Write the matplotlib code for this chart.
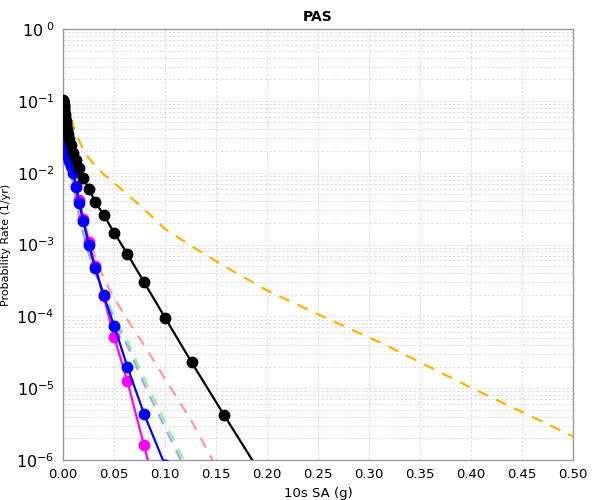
import numpy as np
import matplotlib
matplotlib.use("Agg")
import matplotlib.pyplot as plt
from matplotlib.ticker import FixedLocator, LogLocator, NullFormatter

# ---------------- data ----------------
x_grid = [1.0e-4, 1.3e-4, 1.6e-4, 2.0e-4, 2.5e-4, 3.2e-4, 4.0e-4, 5.0e-4, 6.3e-4, 7.9e-4,
          1.0e-3, 1.26e-3, 1.58e-3, 2.0e-3, 2.51e-3, 3.16e-3, 3.98e-3, 5.01e-3, 6.31e-3, 7.94e-3,
          0.01, 0.0126, 0.0158, 0.02, 0.0251, 0.0316, 0.0398, 0.0501, 0.0631, 0.0794,
          0.1, 0.126, 0.158, 0.2, 0.251, 0.316, 0.398, 0.501]

black_y = [0.102, 0.101, 0.0995, 0.098, 0.096, 0.094, 0.091, 0.088, 0.084, 0.080,
           0.075, 0.070, 0.065, 0.059, 0.053, 0.047, 0.041, 0.035, 0.029, 0.024,
           0.019, 0.015, 0.0116, 0.0084, 0.0060, 0.0039, 0.0026, 0.00146, 0.00074, 0.00030,
           9.6e-5, 2.3e-5, 4.2e-6, 4.7e-7]

blue_y = [0.035, 0.0348, 0.0345, 0.034, 0.0335, 0.033, 0.032, 0.031, 0.030, 0.029,
          0.028, 0.0265, 0.025, 0.0235, 0.022, 0.020, 0.0185, 0.0165, 0.0145, 0.0122,
          0.0100, 0.0063, 0.0038, 0.0021, 0.0010, 4.7e-4, 1.95e-4, 7.4e-5, 2.0e-5, 4.4e-6,
          8.5e-7]

magenta_y = [0.036, 0.0358, 0.0355, 0.035, 0.0345, 0.034, 0.033, 0.032, 0.031, 0.030,
             0.029, 0.0275, 0.026, 0.0245, 0.023, 0.021, 0.0192, 0.0172, 0.015, 0.0127,
             0.0105, 0.0066, 0.0041, 0.0023, 0.0011, 5.0e-4, 1.9e-4, 5.2e-5, 1.25e-5, 1.6e-6,
             1.2e-7]

green_y = [0.038, 0.0375, 0.037, 0.0365, 0.036, 0.035, 0.034, 0.033, 0.031, 0.029,
           0.027, 0.025, 0.023, 0.021, 0.019, 0.017, 0.015, 0.013, 0.011, 0.0090,
           0.0070, 0.0042, 0.0025, 0.0014, 7.8e-4, 4.2e-4, 2.2e-4, 1.0e-4, 4.6e-5, 1.4e-5,
           3.4e-6, 6.0e-7]

lightblue_y = [0.037, 0.0365, 0.036, 0.0355, 0.035, 0.034, 0.033, 0.032, 0.030, 0.028,
               0.026, 0.024, 0.022, 0.020, 0.018, 0.016, 0.0145, 0.0128, 0.011, 0.0092,
               0.0072, 0.0043, 0.0025, 0.0014, 7.5e-4, 4.0e-4, 2.0e-4, 8.8e-5, 3.9e-5, 1.15e-5,
               2.8e-6, 5.0e-7]

salmon_y = [0.038, 0.0375, 0.037, 0.0365, 0.036, 0.035, 0.034, 0.033, 0.031, 0.029,
            0.027, 0.025, 0.023, 0.021, 0.019, 0.017, 0.015, 0.0135, 0.0115, 0.0097,
            0.0080, 0.0053, 0.0035, 0.0021, 0.00125, 6.8e-4, 3.4e-4, 1.8e-4, 9.0e-5, 4.0e-5,
            1.35e-5, 3.5e-6, 5.0e-7]

orange_y = [0.100, 0.0995, 0.099, 0.098, 0.097, 0.096, 0.095, 0.094, 0.093, 0.092,
            0.090, 0.088, 0.086, 0.084, 0.081, 0.078, 0.074, 0.070, 0.063, 0.055,
            0.046, 0.037, 0.028, 0.021, 0.016, 0.0125, 0.0095, 0.0072, 0.0050, 0.0031,
            0.00165, 9.5e-4, 5.0e-4, 2.3e-4, 1.05e-4, 4.0e-5, 1.05e-5, 2.1e-6]

title = "PAS"
x_label = "10s SA (g)"
y_label = "Probability Rate (1/yr)"
x_ticks = [0.00, 0.05, 0.10, 0.15, 0.20, 0.25, 0.30, 0.35, 0.40, 0.45, 0.50]
y_ticks = [1e-6, 1e-5, 1e-4, 1e-3, 1e-2, 1e-1, 1e0]
y_tick_labels = ["10$^{-6}$", "10$^{-5}$", "10$^{-4}$", "10$^{-3}$", "10$^{-2}$", "10$^{-1}$", "10$^{\\ 0}$"]

# ---------------- plot ----------------
plt.rcParams['mathtext.fontset'] = 'dejavusans'
fig = plt.figure(figsize=(6, 5), dpi=100)
ax = fig.add_axes([0.105, 0.08, 0.85, 0.862])

def xs(ys):
    return x_grid[:len(ys)]

dash = (0, (5, 4))
ax.plot(xs(orange_y), orange_y, color='#ffb300', lw=1.6, linestyle=dash, zorder=3)
ax.plot(xs(salmon_y), salmon_y, color='#ff9a9a', lw=1.6, linestyle=dash, zorder=3)
ax.plot(xs(green_y), green_y, color='#99f099', lw=1.6, linestyle=dash, zorder=3)
ax.plot(xs(lightblue_y), lightblue_y, color='#9aa8f5', lw=1.6, linestyle=dash, zorder=3)
ax.plot(xs(magenta_y), magenta_y, color='#ff00ff', lw=1.6, marker='o', ms=7.5, zorder=4)
ax.plot(xs(blue_y), blue_y, color='#0000ff', lw=1.6, marker='o', ms=7.5, zorder=5)
ax.plot(xs(black_y), black_y, color='black', lw=1.6, marker='o', ms=7.5, zorder=6)

ax.set_yscale('log')
ax.set_xlim(0, 0.5)
ax.set_ylim(1e-6, 1)

ax.xaxis.set_major_locator(FixedLocator(x_ticks))
ax.set_xticklabels([f"{v:.2f}" for v in x_ticks], fontsize=9.5)
ax.yaxis.set_major_locator(FixedLocator(y_ticks))
ax.set_yticklabels(y_tick_labels, fontsize=11.5)
ax.yaxis.set_minor_locator(LogLocator(base=10, subs=np.arange(2, 10), numticks=100))
ax.yaxis.set_minor_formatter(NullFormatter())
ax.tick_params(axis='both', which='both', length=0)
ax.tick_params(axis='x', pad=6)
ax.tick_params(axis='y', pad=6)

ax.grid(True, which='major', color='#dcdcdc', linestyle=(0, (2.5, 2)), lw=0.7)
ax.grid(True, which='minor', axis='y', color='#dcdcdc', linestyle=(0, (2.5, 2)), lw=0.7)
ax.set_axisbelow(True)
for s in ax.spines.values():
    s.set_color('#9a9a9a')
    s.set_linewidth(1.0)

ax.set_title(title, fontsize=10, fontweight='bold', pad=6)
ax.set_xlabel(x_label, fontsize=9.5, labelpad=4)
ax.set_ylabel(y_label, fontsize=8, labelpad=4)

fig.savefig("out.png", dpi=100)
